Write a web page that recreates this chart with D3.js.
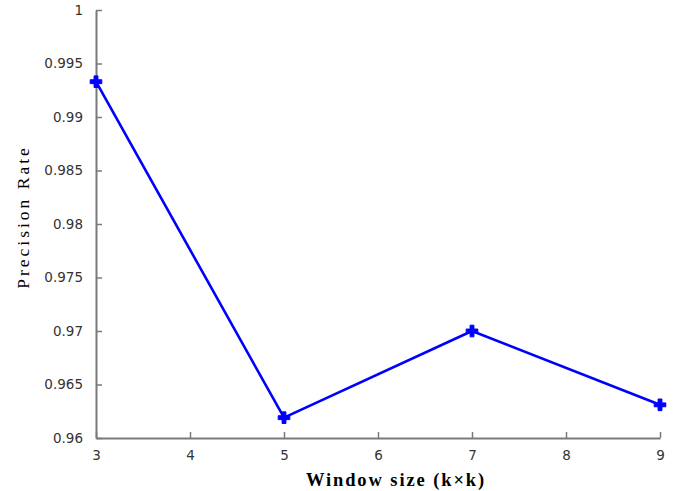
<!DOCTYPE html>
<html>
<head>
<meta charset="utf-8">
<script src="https://cdn.jsdelivr.net/npm/d3@7"></script>
<style>
  html, body { margin: 0; padding: 0; background: #fff; }
  svg { display: block; }
  .tick text { font-family: "DejaVu Sans", sans-serif; font-size: 13.5px; fill: #333; }
  .xtitle { font-family: "Liberation Serif", serif; font-weight: bold; font-size: 18.5px; letter-spacing: 1.9px; fill: #000; }
  .ytitle { font-family: "Liberation Serif", serif; font-size: 17.5px; letter-spacing: 3px; fill: #000; }
</style>
</head>
<body>
<svg id="chart" width="694" height="491"></svg>
<script>
// Precision rate for each sliding-window size
const windowSizes = [3, 5, 7, 9];
const precision = [0.9933, 0.9619, 0.9700, 0.9631];
const xTicks = [3, 4, 5, 6, 7, 8, 9];
const yTicks = [0.96, 0.965, 0.97, 0.975, 0.98, 0.985, 0.99, 0.995, 1];
const yTickLabels = ["0.96", "0.965", "0.97", "0.975", "0.98", "0.985", "0.99", "0.995", "1"];

const svg = d3.select("#chart");
const plotLeft = 96, plotRight = 660, plotTop = 10, plotBottom = 438;

const x = d3.scaleLinear().domain([3, 9]).range([plotLeft, plotRight]);
const y = d3.scaleLinear().domain([0.96, 1]).range([plotBottom, plotTop]);

const axisColor = "#7a7a7a";

// x axis with ticks pointing up into the plot
const xAxis = svg.append("g")
  .attr("transform", `translate(0,${plotBottom})`)
  .call(d3.axisBottom(x).tickValues(xTicks).tickSizeInner(-6).tickSizeOuter(0).tickPadding(12).tickFormat(d3.format("d")));

// y axis with ticks pointing right into the plot
const yAxis = svg.append("g")
  .attr("transform", `translate(${plotLeft},0)`)
  .call(d3.axisLeft(y).tickValues(yTicks).tickSizeInner(-6).tickSizeOuter(0).tickPadding(13)
    .tickFormat((d, i) => yTickLabels[i]));

[xAxis, yAxis].forEach(g => {
  g.select(".domain").attr("stroke", axisColor).attr("stroke-width", 2);
  g.selectAll(".tick line").attr("stroke", axisColor).attr("stroke-width", 1.5);
});

const pts = windowSizes.map((w, i) => [w, precision[i]]);

svg.append("path")
  .datum(pts)
  .attr("fill", "none")
  .attr("stroke", "#0000ff")
  .attr("stroke-width", 2.6)
  .attr("stroke-linejoin", "round")
  .attr("d", d3.line().x(d => x(d[0])).y(d => y(d[1])));

svg.selectAll(".marker")
  .data(pts)
  .join("path")
  .attr("class", "marker")
  .attr("transform", d => `translate(${x(d[0])},${y(d[1])})`)
  .attr("d", d3.symbol(d3.symbolCross, 75)())
  .attr("fill", "#0000ff")
  .attr("stroke", "#0000ff")
  .attr("stroke-width", 1);

svg.append("text")
  .attr("class", "xtitle")
  .attr("x", 396)
  .attr("y", 486)
  .attr("text-anchor", "middle")
  .text("Window size (k×k)");

svg.append("text")
  .attr("class", "ytitle")
  .attr("transform", "translate(29,217) rotate(-90)")
  .attr("text-anchor", "middle")
  .text("Precision Rate");
</script>
</body>
</html>
